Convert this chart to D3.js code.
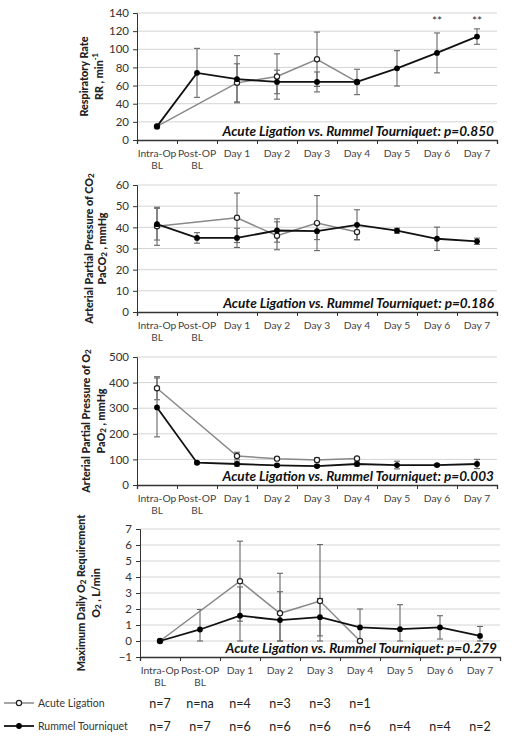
<!DOCTYPE html>
<html><head><meta charset="utf-8">
<script src="https://cdn.jsdelivr.net/npm/d3@7"></script>
<style>
body{margin:0;background:#fff}
svg{display:block}
text{font-family:Lato,"Open Sans",sans-serif}
</style>
</head><body>
<svg id="c" width="512" height="741"></svg>
<script>
// ---------- data ----------
const categories = ["Intra-Op","Post-OP","Day 1","Day 2","Day 3","Day 4","Day 5","Day 6","Day 7"];
const categorySub = ["BL","BL","","","","","","",""];

const rrAcute      = [15, null, 63, 70, 89, 64, null, null, null];
const rrAcuteSD    = [0, null, 21, 25, 30, 0, null, null, null];
const rrRummel     = [15, 74, 67, 64, 64, 64, 79, 96, 114];
const rrRummelSD   = [0, 27, 26, 13, 11, 14, 19.5, 22, 8.5];
const rrTicks      = [0, 20, 40, 60, 80, 100, 120, 140];
const rrStars      = ["", "", "", "", "", "", "", "**", "**"];

const pco2Acute    = [40.5, null, 44.5, 36, 42, 37.8, null, null, null];
const pco2AcuteSD  = [9, null, 11.7, 6.6, 13, 3.6, null, null, null];
const pco2Rummel   = [41.5, 35, 35, 38.5, 38.2, 41.2, 38.4, 34.6, 33.4];
const pco2RummelSD = [7.5, 2.5, 4.5, 5.5, 4, 7.1, 1.2, 5.5, 1.5];
const pco2Ticks    = [0, 10, 20, 30, 40, 50, 60];

const po2Acute     = [378, null, 113, 103, 98, 104, null, null, null];
const po2AcuteSD   = [45, null, 15, 5, 8, 0, null, null, null];
const po2Rummel    = [303, 87, 82, 77, 74, 82, 78, 78, 82];
const po2RummelSD  = [115, 5, 8, 5, 5, 8, 15, 5, 18];
const po2Ticks     = [0, 100, 200, 300, 400, 500];

const o2Acute      = [0, null, 3.74, 1.73, 2.5, 0, null, null, null];
const o2AcuteSD    = [0, null, 2.5, 2.5, 3.53, 0, null, null, null];
const o2Rummel     = [0, 0.72, 1.58, 1.31, 1.49, 0.85, 0.74, 0.85, 0.32];
const o2RummelSD   = [0, 1.25, 1.8, 1.77, 1.17, 1.15, 1.53, 0.73, 0.59];
const o2Ticks      = [-1, 0, 1, 2, 3, 4, 5, 6, 7];

const pValues = ["0.850", "0.186", "0.003", "0.279"];
const seriesNames = ["Acute Ligation", "Rummel Tourniquet"];
const nAcute  = ["n=7","n=na","n=4","n=3","n=3","n=1","","",""];
const nRummel = ["n=7","n=7","n=6","n=6","n=6","n=6","n=4","n=4","n=2"];

// ---------- layout ----------
const svg = d3.select("#c");
const panels = [
  {top:13, bottom:140, left:137, right:497, ticks:rrTicks, a:rrAcute, aSD:rrAcuteSD, r:rrRummel, rSD:rrRummelSD, p:pValues[0], stars:rrStars, clampLo:null,
   title:[["Respiratory Rate"],["RR , min",{sup:"-1"}]], tx:[83,98]},
  {top:185, bottom:312, left:137, right:497, ticks:pco2Ticks, a:pco2Acute, aSD:pco2AcuteSD, r:pco2Rummel, rSD:pco2RummelSD, p:pValues[1], clampLo:null,
   title:[["Arterial Partial Pressure of CO",{sub:"2"}],["PaCO",{sub:"2"}," , mmHg"]], tx:[88,101]},
  {top:357, bottom:485, left:137, right:497, ticks:po2Ticks, a:po2Acute, aSD:po2AcuteSD, r:po2Rummel, rSD:po2RummelSD, p:pValues[2], clampLo:null,
   title:[["Arterial Partial Pressure of O",{sub:"2"}],["PaO",{sub:"2"}," , mmHg"]], tx:[85,100]},
  {top:529, bottom:657, left:140, right:500, ticks:o2Ticks, a:o2Acute, aSD:o2AcuteSD, r:o2Rummel, rSD:o2RummelSD, p:pValues[3], clampLo:0,
   title:[["Maximum Daily O",{sub:"2"}," Requirement"],["O",{sub:"2"}," , L/min"]], tx:[80,95]}
];

function richText(sel, parts){
  parts.forEach(p=>{
    if (typeof p === "string") sel.append("tspan").text(p);
    else if (p.sub) sel.append("tspan").attr("baseline-shift","-2.5").attr("font-size","0.75em").text(p.sub);
    else if (p.sup) sel.append("tspan").attr("baseline-shift","3").attr("font-size","0.7em").text(p.sup);
  });
}

let lastX = null;
panels.forEach(P=>{
  const g = svg.append("g");
  const x = d3.scaleBand().domain(categories).range([P.left, P.right]);
  const cx = c => x(c) + x.bandwidth()/2;
  const y = d3.scaleLinear().domain([P.ticks[0], P.ticks[P.ticks.length-1]]).range([P.bottom, P.top]);
  lastX = cx;

  // grid
  g.selectAll(".grid").data(P.ticks.slice(1)).join("line")
    .attr("x1", P.left).attr("x2", P.right)
    .attr("y1", d=>y(d)).attr("y2", d=>y(d))
    .attr("stroke", "#d4d4d4").attr("stroke-width", 1);

  // y axis
  const ya = g.append("g").attr("transform", `translate(${P.left},0)`)
    .call(d3.axisLeft(y).tickValues(P.ticks).tickSize(4).tickPadding(4).tickFormat(d3.format("d")));
  ya.select(".domain").attr("stroke", "#333");
  ya.selectAll(".tick line").attr("stroke", "#333");
  ya.selectAll("text").attr("font-size", 11.5).attr("fill", "#333");

  // x axis (ticks at category boundaries)
  const xb = d3.scaleLinear().domain([0, categories.length]).range([P.left, P.right]);
  const xa = g.append("g").attr("transform", `translate(0,${P.bottom})`)
    .call(d3.axisBottom(xb).tickValues(d3.range(0, categories.length+1)).tickSize(4).tickFormat(""));
  xa.select(".domain").attr("stroke", "#333").attr("stroke-width", 1.3);
  xa.selectAll(".tick line").attr("stroke", "#333");

  categories.forEach((c,i)=>{
    g.append("text").attr("x", cx(c)).attr("y", P.bottom+16.5).attr("text-anchor","middle")
      .attr("font-size", 10.3).attr("fill", "#444").text(c);
    if (categorySub[i]) g.append("text").attr("x", cx(c)).attr("y", P.bottom+28.5).attr("text-anchor","middle")
      .attr("font-size", 10).attr("fill", "#444").text(categorySub[i]);
  });

  // y title
  const midY = (P.top + P.bottom)/2;
  P.title.forEach((parts, k)=>{
    const t = g.append("text").attr("transform", `translate(${P.tx[k]},${midY}) rotate(-90)`)
      .attr("text-anchor","middle").attr("dominant-baseline","central")
      .attr("font-size", 10.8).attr("font-weight", "900").attr("fill", "#222");
    richText(t, parts);
  });

  // error bars
  const errs = [];
  [[P.a,P.aSD],[P.r,P.rSD]].forEach(([v,s])=>{
    categories.forEach((c,i)=>{
      if (v[i]==null || !s[i]) return;
      let lo = v[i]-s[i]; if (P.clampLo!=null) lo = Math.max(P.clampLo, lo);
      errs.push({c, hi:v[i]+s[i], lo});
    });
  });
  const eg = g.append("g").attr("stroke", "#666").attr("stroke-width", 1.1);
  errs.forEach(e=>{
    eg.append("line").attr("x1", cx(e.c)).attr("x2", cx(e.c)).attr("y1", y(e.hi)).attr("y2", y(e.lo));
    eg.append("line").attr("x1", cx(e.c)-3).attr("x2", cx(e.c)+3).attr("y1", y(e.hi)).attr("y2", y(e.hi));
    eg.append("line").attr("x1", cx(e.c)-3).attr("x2", cx(e.c)+3).attr("y1", y(e.lo)).attr("y2", y(e.lo));
  });

  // lines
  const line = d3.line().x(d=>cx(d.c)).y(d=>y(d.v));
  const aPts = categories.map((c,i)=>({c, v:P.a[i]})).filter(d=>d.v!=null);
  const rPts = categories.map((c,i)=>({c, v:P.r[i]})).filter(d=>d.v!=null);
  g.append("path").attr("d", line(aPts)).attr("fill","none").attr("stroke","#888").attr("stroke-width",1.5);
  g.append("path").attr("d", line(rPts)).attr("fill","none").attr("stroke","#111").attr("stroke-width",1.8);
  g.selectAll(".ma").data(aPts).join("circle").attr("cx", d=>cx(d.c)).attr("cy", d=>y(d.v)).attr("r", 2.6)
    .attr("fill","#fff").attr("stroke","#222").attr("stroke-width",1.2);
  g.selectAll(".mr").data(rPts).join("circle").attr("cx", d=>cx(d.c)).attr("cy", d=>y(d.v)).attr("r", 2.9)
    .attr("fill","#000");

  // stars
  if (P.stars) P.stars.forEach((s,i)=>{
    if (s) g.append("text").attr("x", cx(categories[i])).attr("y", 25).attr("text-anchor","middle")
      .attr("font-size", 12).attr("fill","#333").text(s);
  });

  // annotation
  g.append("text").attr("x", P.right-3).attr("y", P.bottom-4.5).attr("text-anchor","end")
    .attr("font-size", 13.6).attr("font-weight","bold").attr("font-style","italic").attr("fill","#111")
    .text(`${seriesNames[0]} vs. ${seriesNames[1]}: p=${P.p}`);
});

// legend + n counts
const legend = [{name:seriesNames[0], n:nAcute, y:703, open:true}, {name:seriesNames[1], n:nRummel, y:726, open:false}];
legend.forEach(L=>{
  svg.append("line").attr("x1",4).attr("x2",34).attr("y1",L.y).attr("y2",L.y)
    .attr("stroke", L.open ? "#888" : "#111").attr("stroke-width", L.open ? 1.5 : 1.8);
  svg.append("circle").attr("cx",19).attr("cy",L.y).attr("r", L.open?2.6:2.9)
    .attr("fill", L.open?"#fff":"#000").attr("stroke", L.open?"#222":null).attr("stroke-width",1.2);
  svg.append("text").attr("x",38).attr("y",L.y).attr("dominant-baseline","central")
    .attr("font-size",10.5).attr("fill","#333").text(L.name);
  categories.forEach((c,i)=>{
    if (L.n[i]) svg.append("text").attr("x", lastX(c)).attr("y", L.y).attr("dominant-baseline","central")
      .attr("text-anchor","middle").attr("font-size",12.5).attr("fill","#222").text(L.n[i]);
  });
});
</script>
</body></html>
